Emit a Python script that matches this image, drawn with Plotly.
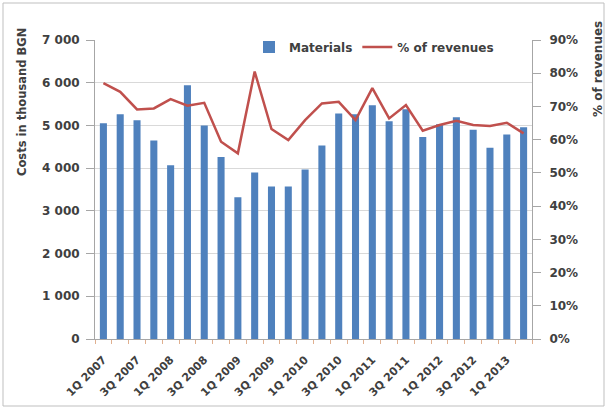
import plotly.graph_objects as go

# Quarterly material costs (thousand BGN) and their share of revenues (%)
quarters = [
    "1Q 2007", "2Q 2007", "3Q 2007", "4Q 2007",
    "1Q 2008", "2Q 2008", "3Q 2008", "4Q 2008",
    "1Q 2009", "2Q 2009", "3Q 2009", "4Q 2009",
    "1Q 2010", "2Q 2010", "3Q 2010", "4Q 2010",
    "1Q 2011", "2Q 2011", "3Q 2011", "4Q 2011",
    "1Q 2012", "2Q 2012", "3Q 2012", "4Q 2012",
    "1Q 2013", "2Q 2013",
]
materials = [
    5050, 5260, 5120, 4650, 4070, 5940, 5000, 4260,
    3320, 3900, 3570, 3570, 3970, 4530, 5280, 5260,
    5470, 5100, 5380, 4730, 5030, 5190, 4900, 4480,
    4790, 4960,
]
pct_revenues = [
    77.0, 74.4, 69.1, 69.4, 72.2, 70.2, 71.1, 59.4,
    55.9, 80.5, 63.2, 59.9, 65.9, 70.9, 71.4, 65.9,
    75.5, 66.4, 70.4, 62.7, 64.4, 65.7, 64.4, 64.1,
    65.1, 61.9,
]
left_ticks = [0, 1000, 2000, 3000, 4000, 5000, 6000, 7000]
right_ticks = [0, 10, 20, 30, 40, 50, 60, 70, 80, 90]

xpos = list(range(len(quarters)))
label_pos = xpos[::2]
label_text = quarters[::2]
right_text = [f"{v}%" for v in right_ticks]

BLUE = "#4F81BD"
RED = "#C0504D"
TXT = "#404040"
AXIS = "#A6A6A6"
FONT = "DejaVu Sans"


def bold(size):
    return dict(family=FONT, size=size, color=TXT, weight="bold")


fig = go.Figure()
fig.add_trace(go.Bar(
    x=xpos, y=materials, name="Materials",
    marker=dict(color=BLUE, line=dict(width=0)),
    width=0.42, yaxis="y",
))
fig.add_trace(go.Scatter(
    x=xpos, y=pct_revenues, name="% of revenues",
    mode="lines", line=dict(color=RED, width=2.5),
    yaxis="y2",
))

fig.update_layout(
    width=607, height=409,
    margin=dict(l=95, r=75, t=40, b=70),
    paper_bgcolor="white", plot_bgcolor="white",
    separators=". ",
    font=bold(11),
    showlegend=True,
    legend=dict(
        orientation="h", x=(289 - 40 - 95) / 437, y=(339 - 47) / 299,
        xanchor="left", yanchor="middle",
        bgcolor="rgba(0,0,0,0)",
        font=bold(12),
        itemwidth=30, traceorder="normal",
    ),
    xaxis=dict(
        range=[-0.5, len(quarters) - 0.5], automargin=False,
        tickmode="array", tickvals=label_pos, ticktext=label_text,
        tickangle=-45, ticks="", showgrid=False, zeroline=False,
        showline=True, linecolor=AXIS, linewidth=1,
        tickfont=bold(11), ticklabelstandoff=9,
        minor=dict(ticks="outside", dtick=1, tick0=-0.5, ticklen=4,
                   tickcolor="#E0B090", showgrid=False),
    ),
    yaxis=dict(
        range=[0, 7000], tickmode="array", tickvals=left_ticks,
        tickformat=",d", automargin=False,
        showgrid=True, gridcolor="#D9D9D9", gridwidth=1,
        zeroline=False, showline=True, linecolor=AXIS, linewidth=1,
        ticks="outside", ticklen=8, tickcolor=AXIS,
        tickfont=bold(12), ticklabelstandoff=4,
    ),
    yaxis2=dict(
        range=[0, 90], overlaying="y", side="right", automargin=False,
        tickmode="array", tickvals=right_ticks, ticktext=right_text,
        showgrid=False, zeroline=False, showline=True,
        linecolor=AXIS, linewidth=1,
        ticks="outside", ticklen=8, tickcolor=AXIS,
        tickfont=bold(12), ticklabelstandoff=6,
    ),
    annotations=[
        dict(text="Costs in thousand BGN", textangle=-90,
             xref="paper", yref="paper",
             x=(22 - 95) / 437, y=(339 - 102) / 299,
             xanchor="center", yanchor="middle", showarrow=False,
             font=bold(11.5)),
        dict(text="% of revenues", textangle=-90,
             xref="paper", yref="paper",
             x=(598 - 95) / 437, y=(339 - 69) / 299,
             xanchor="center", yanchor="middle", showarrow=False,
             font=bold(12)),
    ],
    shapes=[
        dict(type="rect", xref="paper", yref="paper",
             x0=(3 - 95) / 437, x1=(604 - 95) / 437,
             y0=(339 - 406) / 299, y1=(339 - 3) / 299,
             line=dict(color="#BFBFBF", width=1), fillcolor="rgba(0,0,0,0)",
             layer="below"),
    ],
)

fig.write_html("out.html")
